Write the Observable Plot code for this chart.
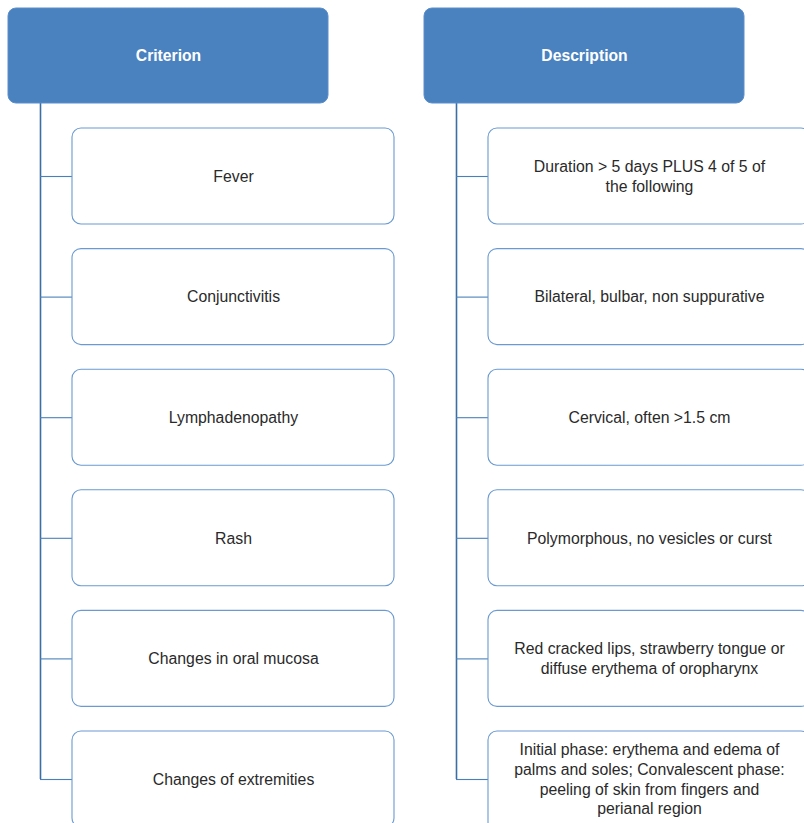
<!DOCTYPE html>
<html>
<head>
<meta charset="utf-8">
<script src="https://cdn.jsdelivr.net/npm/d3@7"></script>
<script src="https://cdn.jsdelivr.net/npm/@observablehq/plot@0.6"></script>
<style>
  html, body { margin: 0; padding: 0; background: #fff; overflow: hidden; }
  #chart svg { display: block; }
</style>
</head>
<body>
<div id="chart"></div>
<script>
// ---- data ----
const headers = ["Criterion", "Description"];
const criteria = [
  "Fever",
  "Conjunctivitis",
  "Lymphadenopathy",
  "Rash",
  "Changes in oral mucosa",
  "Changes of extremities"
];
const descriptions = [
  "Duration > 5 days PLUS 4 of 5 of\nthe following",
  "Bilateral, bulbar, non suppurative",
  "Cervical, often >1.5 cm",
  "Polymorphous, no vesicles or curst",
  "Red cracked lips, strawberry tongue or\ndiffuse erythema of oropharynx",
  "Initial phase: erythema and edema of\npalms and soles; Convalescent phase:\npeeling of skin from fingers and\nperianal region"
];

// ---- layout (pixel space of the diagram) ----
const W = 804, H = 823;
const colX = [8, 424];          // header left edges
const headW = 320, headTop = 8, headBot = 103;
const spineDx = 32;             // spine offset from header left
const childDx = 64;             // child box offset from header left
const childW = 322;
const rowTop0 = 128, rowStep = 120.6, rowH = 96;

const headerRows = headers.map((h, c) => ({
  label: h, x1: colX[c], x2: colX[c] + headW, y1: headTop, y2: headBot
}));
const children = [];
[criteria, descriptions].forEach((list, c) => {
  list.forEach((label, i) => {
    const top = rowTop0 + i * rowStep;
    const bottom = (c === 1 && i === list.length - 1) ? top + 100 : top + rowH;
    children.push({
      label, col: c,
      x1: colX[c] + childDx, x2: colX[c] + childDx + childW,
      y1: top, y2: bottom, cy: top + rowH / 2, sx: colX[c] + spineDx
    });
  });
});
const spines = headers.map((h, c) => ({
  x: colX[c] + spineDx, y1: headBot,
  y2: rowTop0 + (criteria.length - 1) * rowStep + rowH / 2
}));

const chart = Plot.plot({
  width: W, height: H,
  margin: 0,
  x: {domain: [0, W], range: [0, W], axis: null},
  y: {domain: [0, H], range: [0, H], axis: null},
  style: {fontFamily: "'Liberation Sans', Arial, Helvetica, sans-serif", background: "#fff"},
  marks: [
    // spines
    Plot.ruleX(spines, {x: "x", y1: "y1", y2: "y2", stroke: "#3b6ea5", strokeWidth: 1.6}),
    // branches
    Plot.ruleY(children, {y: "cy", x1: "sx", x2: "x1", stroke: "#4a7fb8", strokeWidth: 1.1}),
    // header boxes
    Plot.rect(headerRows, {x1: "x1", x2: "x2", y1: "y1", y2: "y2", fill: "#4a81bf", stroke: "#5a8ecb", strokeWidth: 1, rx: 8}),
    Plot.text(headerRows, {x: d => (d.x1 + d.x2) / 2, y: d => (d.y1 + d.y2) / 2 - 0.5, text: "label",
      fill: "#fff", fontSize: 15.7, fontWeight: "bold"}),
    // child boxes
    Plot.rect(children, {x1: "x1", x2: "x2", y1: "y1", y2: "y2", fill: "#fff", stroke: "#6a9ad0", strokeWidth: 1.1, rx: 9}),
    Plot.text(children, {x: d => (d.x1 + d.x2) / 2, y: d => d.cy - 1, text: "label",
      fill: "#2a2a2a", fontSize: 15.8, lineHeight: 1.24})
  ]
});
document.getElementById("chart").appendChild(chart);
</script>
</body>
</html>
